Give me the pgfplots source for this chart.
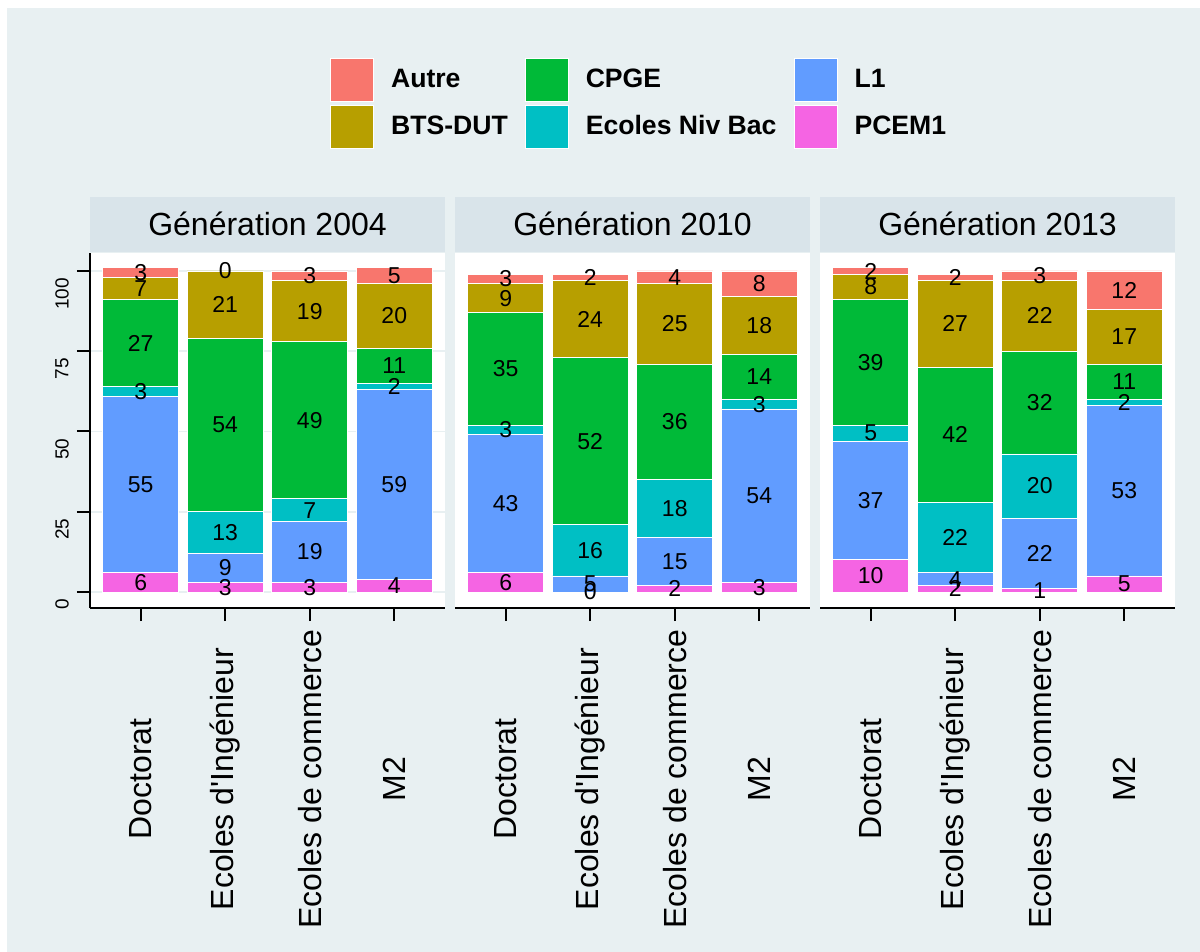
\documentclass[border=0pt]{standalone}
\usepackage{fontspec}
\setmainfont{Liberation Sans}
\usepackage{pgfplots}
\usepackage{pgfplotstable}
\pgfplotsset{compat=1.18}

\definecolor{autre}{HTML}{F8766D}
\definecolor{bts}{HTML}{B79F00}
\definecolor{cpge}{HTML}{00BA38}
\definecolor{enb}{HTML}{00BFC4}
\definecolor{lun}{HTML}{619CFF}
\definecolor{pcem}{HTML}{F564E3}
\definecolor{bgc}{HTML}{E8F0F2}
\definecolor{stripc}{HTML}{D9E4EA}

% share of each previous track, by target diploma
\pgfplotstableread{
x PCEM1 L1 ENB CPGE BTS Autre
1 6 55 3 27 7 3
2 3 9 13 54 21 0
3 3 19 7 49 19 3
4 4 59 2 11 20 5
}\genA
\pgfplotstableread{
x PCEM1 L1 ENB CPGE BTS Autre
1 6 43 3 35 9 3
2 0 5 16 52 24 2
3 2 15 18 36 25 4
4 3 54 3 14 18 8
}\genB
\pgfplotstableread{
x PCEM1 L1 ENB CPGE BTS Autre
1 10 37 5 39 8 2
2 2 4 22 42 27 2
3 1 22 20 32 22 3
4 5 53 2 11 17 12
}\genC

\tikzset{barlabel/.style={font=\fontsize{11.5}{12}\selectfont, text=black, anchor=center}}

\pgfplotsset{
  /pgf/number format/assume math mode=true,
  sq/.style={legend image code/.code={\draw[fill=#1,draw=white,line width=0.5pt] (0pt,-10.75pt) rectangle (21.5pt,10.75pt);}},
  frame/.style={
    scale only axis, width=177.5pt, height=177.5pt,
    anchor=south west,
    xmin=0.4, xmax=4.6, ymin=-5, ymax=105.6,
    clip=false,
  },
  panel/.style={
    frame,
    ybar stacked, bar width=0.9,
    axis background/.style={fill=white},
    axis x line*=bottom,
    axis line style={black, line width=1.2pt},
    tick align=outside, major tick length=6.5pt,
    tick style={black, line width=1pt},
    xtick={1,2,3,4},
    xticklabels={Doctorat,Ecoles d\textquotesingle Ingénieur,Ecoles de commerce,M2},
    xticklabel style={yshift=-79pt, rotate=90, anchor=center, font=\fontsize{16}{18}\selectfont},
    ytick={0,25,50,75,100},
    yticklabel style={xshift=-7.5pt, rotate=90, anchor=east, font=\fontsize{9.5}{11}\selectfont},
    ymajorgrids, major grid style={draw=bgc, line width=0.8pt},
    every axis plot/.append style={draw=white, line width=0.4pt},
    nodes near coords, point meta=rawy,
    nodes near coords style={barlabel},
    title style={at={(0.5,1)}, anchor=south, yshift=-5.5pt, fill=stripc,
      minimum width=177.5pt, minimum height=27.5pt, inner sep=0pt,
      font=\fontsize{16}{18}\selectfont},
  },
  % zero-height segments get no node near coords, so their labels go in an overlay
  zeros/.style={frame, hide axis},
  zerolabel/.style={draw=none, mark=none, nodes near coords, point meta=explicit symbolic,
    nodes near coords style={barlabel}},
}

\begin{document}
\begin{tikzpicture}
\useasboundingbox (0,0) rectangle (600pt,-476pt);
\fill[white] (0,0) rectangle (600pt,-476pt);
\fill[bgc] (3.5pt,-4pt) rectangle (600pt,-476pt);

\begin{axis}[panel, at={(45pt,-304pt)}, axis y line*=left,
  title={Génération 2004},
  legend columns=3,
  legend style={draw=none, fill=none, at={(1.544,1.4225)}, anchor=center,
    font=\fontsize{13.3}{15}\selectfont\bfseries,
    nodes={inner sep=0pt}, row sep=1.5pt,
    /tikz/every odd column/.append style={column sep=8.5pt},
    /tikz/every even column/.append style={column sep=8.5pt}},
  legend cell align=left]
\addlegendimage{sq=autre}\addlegendentry{Autre}
\addlegendimage{sq=cpge}\addlegendentry{CPGE}
\addlegendimage{sq=lun}\addlegendentry{L1}
\addlegendimage{sq=bts}\addlegendentry{BTS-DUT}
\addlegendimage{sq=enb}\addlegendentry{Ecoles Niv Bac}
\addlegendimage{sq=pcem}\addlegendentry{PCEM1}
\addplot[fill=pcem] table[x=x,y=PCEM1]{\genA};
\addplot[fill=lun] table[x=x,y=L1]{\genA};
\addplot[fill=enb] table[x=x,y=ENB]{\genA};
\addplot[fill=cpge] table[x=x,y=CPGE]{\genA};
\addplot[fill=bts] table[x=x,y=BTS]{\genA};
\addplot[fill=autre] table[x=x,y=Autre]{\genA};
\end{axis}
\begin{axis}[zeros, at={(45pt,-304pt)}]
\addplot[zerolabel] coordinates {(2,100)[0]};
\end{axis}

\begin{axis}[panel, at={(227.5pt,-304pt)}, axis y line=none,
  title={Génération 2010}]
\addplot[fill=pcem] table[x=x,y=PCEM1]{\genB};
\addplot[fill=lun] table[x=x,y=L1]{\genB};
\addplot[fill=enb] table[x=x,y=ENB]{\genB};
\addplot[fill=cpge] table[x=x,y=CPGE]{\genB};
\addplot[fill=bts] table[x=x,y=BTS]{\genB};
\addplot[fill=autre] table[x=x,y=Autre]{\genB};
\end{axis}
\begin{axis}[zeros, at={(227.5pt,-304pt)}]
\addplot[zerolabel] coordinates {(2,0)[0]};
\end{axis}

\begin{axis}[panel, at={(410pt,-304pt)}, axis y line=none,
  title={Génération 2013}]
\addplot[fill=pcem] table[x=x,y=PCEM1]{\genC};
\addplot[fill=lun] table[x=x,y=L1]{\genC};
\addplot[fill=enb] table[x=x,y=ENB]{\genC};
\addplot[fill=cpge] table[x=x,y=CPGE]{\genC};
\addplot[fill=bts] table[x=x,y=BTS]{\genC};
\addplot[fill=autre] table[x=x,y=Autre]{\genC};
\end{axis}
\end{tikzpicture}
\end{document}
